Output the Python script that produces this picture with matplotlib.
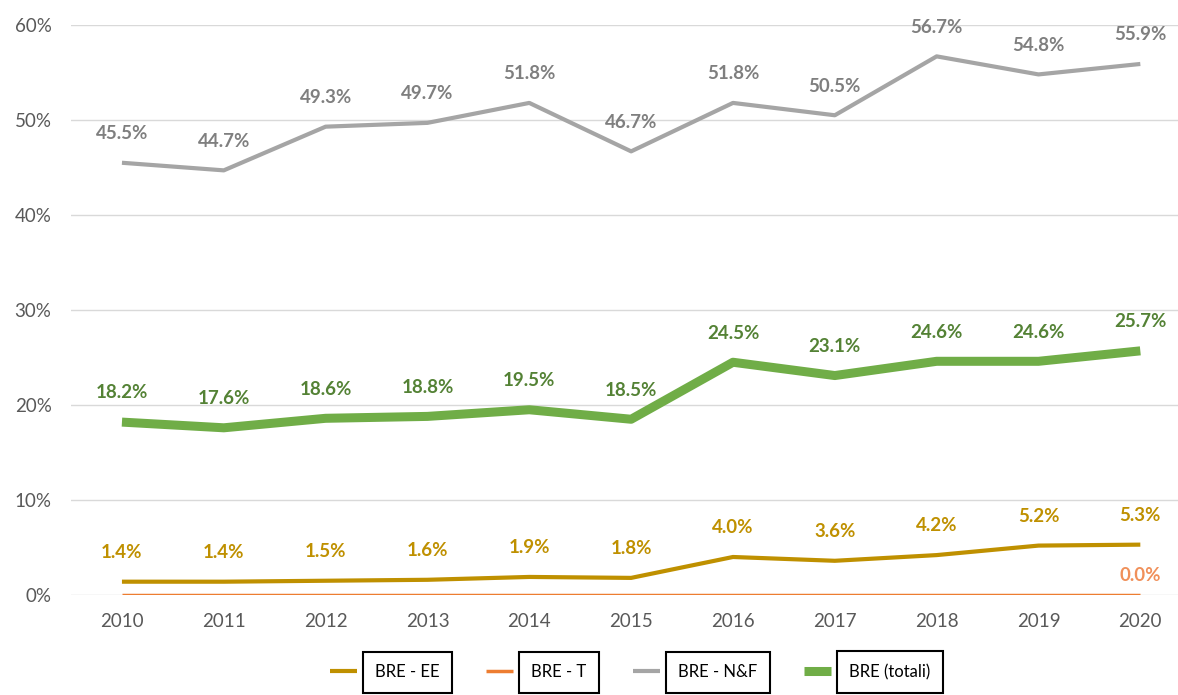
import matplotlib.pyplot as plt
from matplotlib.ticker import FuncFormatter

plt.rcParams['font.family'] = ['Lato', 'DejaVu Sans']

anni = ['2010', '2011', '2012', '2013', '2014', '2015', '2016', '2017', '2018', '2019', '2020']
bre_ee = [1.4, 1.4, 1.5, 1.6, 1.9, 1.8, 4.0, 3.6, 4.2, 5.2, 5.3]
bre_t = [0.0, 0.0, 0.0, 0.0, 0.0, 0.0, 0.0, 0.0, 0.0, 0.0, 0.0]
bre_nf = [45.5, 44.7, 49.3, 49.7, 51.8, 46.7, 51.8, 50.5, 56.7, 54.8, 55.9]
bre_tot = [18.2, 17.6, 18.6, 18.8, 19.5, 18.5, 24.5, 23.1, 24.6, 24.6, 25.7]

fig = plt.figure(figsize=(11.78, 6.95), dpi=100)
ax = fig.add_axes([0.0603, 0.1439, 0.9397, 0.8201])
x = list(range(len(anni)))

# serie: (nome, valori, colore linea, spessore, colore etichette, etichette solo all'ultimo anno)
serie = [
    ('BRE - EE', bre_ee, '#BF9000', 3, '#BF9000', False),
    ('BRE - T', bre_t, '#ED7D31', 2.5, '#F0905A', True),
    ('BRE - N&F', bre_nf, '#A5A5A5', 3, '#7F7F7F', False),
    ('BRE (totali)', bre_tot, '#70AD47', 6.5, '#548235', False),
]

for nome, val, col, lw, col_lab, solo_ultimo in serie:
    ax.plot(x, val, color=col, lw=lw, label=nome, solid_capstyle='butt', zorder=3)
    for i, v in enumerate(val):
        if solo_ultimo and i != len(val) - 1:
            continue
        off = 14 if solo_ultimo else 21
        ax.annotate('%.1f%%' % v, (i, v), xytext=(0, off), textcoords='offset points',
                    ha='center', va='center', fontsize=13.5, fontweight='bold', color=col_lab)

ax.set_ylim(0, 60)
ax.set_xlim(-0.5, 10.37)
ax.set_yticks(range(0, 61, 10))
ax.yaxis.set_major_formatter(FuncFormatter(lambda v, p: '%d%%' % v))
ax.set_xticks(x)
ax.set_xticklabels(anni)
ax.tick_params(length=0, labelsize=13.5, colors='#595959')
ax.tick_params(axis='x', pad=13)
ax.tick_params(axis='y', pad=14)
ax.grid(axis='y', color='#D9D9D9', lw=1)
ax.set_axisbelow(True)
for s in ax.spines.values():
    s.set_visible(False)

leg = fig.legend(loc='lower center', bbox_to_anchor=(0.535, 0.0), ncol=4, frameon=False,
                 fontsize=12, handlelength=1.6, handletextpad=1.1, columnspacing=2.8)
for t in leg.get_texts():
    t.set_bbox(dict(facecolor='white', edgecolor='black', lw=1.5, pad=9))
    t.set_color('#000000')

fig.savefig('out.png', dpi=100)
